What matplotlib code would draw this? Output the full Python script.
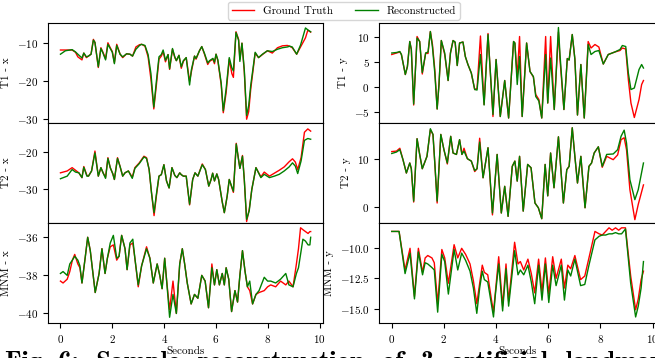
import matplotlib
matplotlib.use('Agg')
import matplotlib.pyplot as plt

plt.rcParams.update({
    'font.family': 'serif',
    'font.serif': ['cmr10', 'DejaVu Serif'],
    'mathtext.fontset': 'cm',
    'axes.formatter.use_mathtext': True,
    'font.size': 8,
    'axes.linewidth': 0.8,
})

# ---------------- data ----------------
# T1 - x
t_t1x = [0.00, 0.19, 0.45, 0.58, 0.67, 0.83, 0.90, 1.00, 1.08, 1.18, 1.27, 1.33, 1.46, 1.56,
         1.64, 1.74, 1.83, 1.92, 2.00, 2.08, 2.17, 2.30, 2.40, 2.55, 2.68, 2.78, 2.91, 3.05,
         3.13, 3.26, 3.38, 3.49, 3.60, 3.70, 3.80, 3.89, 3.96, 4.05, 4.15, 4.21, 4.32, 4.41,
         4.47, 4.57, 4.66, 4.74, 4.85, 4.98, 5.05, 5.17, 5.23, 5.36, 5.45, 5.55, 5.68, 5.75,
         5.88, 5.94, 6.00, 6.07, 6.20, 6.28, 6.39, 6.51, 6.61, 6.67, 6.77, 6.87, 6.92, 7.00,
         7.09, 7.18, 7.26, 7.34, 7.51, 7.64, 7.79, 7.98, 8.17, 8.37, 8.56, 8.75, 8.84, 8.94,
         9.11, 9.26, 9.45, 9.54, 9.65]
gt_t1x = [-11.8, -11.8, -11.8, -12.4, -13.6, -14.4, -12.6, -13.8, -13.4, -12.9, -9.0, -9.8, -16.4, -11.2,
          -12.4, -14.1, -9.9, -11.2, -12.2, -15.1, -10.3, -12.9, -13.8, -12.8, -12.9, -13.4, -11.0, -10.4,
          -10.3, -10.8, -13.6, -19.5, -27.3, -21.0, -14.2, -13.4, -12.2, -14.9, -13.0, -16.9, -11.6, -13.8,
          -14.6, -13.2, -16.6, -14.8, -13.8, -20.0, -17.5, -13.4, -14.2, -12.0, -10.9, -12.8, -15.6, -14.8,
          -14.2, -15.4, -12.9, -14.6, -21.0, -28.3, -23.0, -14.2, -18.0, -19.0, -7.0, -9.0, -14.2, -10.0,
          -17.5, -30.0, -28.0, -22.0, -12.6, -13.8, -13.0, -12.0, -12.6, -11.2, -10.7, -10.6, -10.8, -11.2,
          -12.9, -11.0, -8.6, -6.6, -7.1]
rec_t1x = [-12.9, -12.0, -11.7, -12.3, -12.9, -13.9, -12.6, -13.6, -13.4, -12.9, -9.2, -9.8, -16.2, -11.4,
           -12.6, -14.4, -10.3, -11.4, -12.4, -15.4, -10.6, -12.9, -13.6, -12.8, -12.9, -13.4, -11.6, -10.6,
           -10.3, -10.6, -13.0, -18.0, -26.8, -20.0, -13.6, -13.0, -11.8, -14.5, -13.0, -16.7, -11.4, -13.6,
           -14.6, -13.2, -16.2, -14.6, -13.8, -21.0, -17.0, -13.4, -14.0, -12.0, -10.9, -12.6, -15.2, -14.6,
           -14.0, -15.0, -12.9, -14.4, -20.5, -27.8, -22.0, -13.8, -16.5, -17.3, -7.2, -9.2, -14.8, -10.0,
           -17.0, -29.0, -26.4, -21.0, -12.4, -13.8, -12.9, -12.0, -12.2, -11.6, -11.2, -11.0, -10.8, -11.0,
           -12.9, -10.5, -6.0, -6.5, -7.0]

# T2 - x
t_t2x = [0.00, 0.26, 0.45, 0.58, 0.71, 0.83, 0.90, 1.02, 1.08, 1.20, 1.33, 1.46, 1.56, 1.65,
         1.74, 1.83, 1.92, 2.02, 2.08, 2.20, 2.30, 2.40, 2.49, 2.62, 2.77, 2.87, 3.04, 3.22,
         3.32, 3.42, 3.51, 3.61, 3.70, 3.80, 3.89, 3.99, 4.09, 4.19, 4.30, 4.41, 4.49, 4.60,
         4.66, 4.74, 4.85, 4.98, 5.10, 5.19, 5.30, 5.47, 5.59, 5.72, 5.81, 5.87, 5.94, 6.03,
         6.10, 6.24, 6.32, 6.43, 6.51, 6.60, 6.67, 6.78, 6.87, 6.92, 7.02, 7.09, 7.18, 7.28,
         7.38, 7.54, 7.73, 7.86, 8.06, 8.25, 8.44, 8.63, 8.82, 8.95, 9.06, 9.15, 9.28, 9.41,
         9.54, 9.65]
gt_t2x = [-25.7, -25.2, -24.3, -25.0, -25.7, -27.0, -24.0, -26.4, -26.6, -25.2, -19.8, -26.6, -24.3, -25.8,
          -26.9, -21.6, -24.3, -26.0, -27.5, -21.6, -24.0, -26.6, -25.7, -25.2, -26.9, -24.3, -23.0, -21.2,
          -21.6, -24.8, -31.0, -37.3, -32.0, -26.6, -26.2, -23.5, -27.9, -29.8, -24.3, -26.4, -27.0, -25.7,
          -26.2, -26.6, -26.6, -34.4, -27.5, -25.7, -26.6, -23.3, -24.8, -29.3, -27.5, -25.8, -27.9, -26.0,
          -27.5, -33.6, -36.5, -32.0, -27.5, -29.5, -31.0, -17.7, -22.2, -24.5, -21.0, -27.5, -38.9, -35.6,
          -30.2, -24.3, -26.8, -25.5, -26.6, -25.8, -25.0, -24.1, -22.7, -21.9, -22.8, -24.8, -21.6, -14.7,
          -13.8, -14.4]
rec_t2x = [-27.3, -26.6, -24.8, -25.5, -25.7, -27.0, -24.2, -26.6, -26.6, -25.2, -20.3, -26.6, -24.3, -25.8,
           -27.2, -21.8, -24.3, -26.0, -27.5, -21.8, -24.0, -26.6, -25.7, -25.2, -27.2, -24.5, -23.2, -21.4,
           -21.8, -24.8, -31.0, -36.5, -31.5, -26.6, -26.2, -23.5, -27.9, -29.8, -24.3, -26.4, -27.0, -25.7,
           -26.2, -26.6, -26.6, -34.2, -27.5, -25.7, -26.6, -23.5, -24.8, -29.3, -27.5, -25.8, -27.9, -26.0,
           -27.5, -33.6, -36.5, -32.0, -27.5, -29.3, -30.7, -17.9, -22.2, -24.5, -21.2, -27.5, -38.3, -36.0,
           -30.2, -24.3, -27.0, -26.1, -27.0, -26.6, -26.1, -25.2, -24.1, -23.0, -23.9, -25.9, -22.5, -16.9,
           -16.4, -16.6]

# MNM - x
t_mnx = [0.00, 0.10, 0.26, 0.36, 0.46, 0.55, 0.67, 0.75, 0.83, 0.96, 1.05, 1.15, 1.34, 1.49,
         1.60, 1.72, 1.81, 1.92, 2.04, 2.17, 2.26, 2.36, 2.49, 2.57, 2.68, 2.79, 2.87, 3.00,
         3.13, 3.32, 3.45, 3.58, 3.73, 3.83, 3.92, 4.02, 4.09, 4.21, 4.34, 4.47, 4.60, 4.70,
         4.79, 4.89, 5.04, 5.17, 5.30, 5.45, 5.58, 5.71, 5.84, 5.94, 6.03, 6.13, 6.24, 6.32,
         6.39, 6.49, 6.60, 6.73, 6.83, 6.92, 7.02, 7.12, 7.21, 7.30, 7.41, 7.54, 7.66, 7.86,
         7.99, 8.11, 8.30, 8.49, 8.69, 8.81, 8.97, 9.10, 9.18, 9.26, 9.35, 9.45, 9.55, 9.62,
         9.65]
gt_mnx = [-38.3, -38.4, -38.2, -37.8, -37.2, -36.9, -37.4, -37.6, -38.4, -37.0, -36.0, -36.7, -38.9, -37.9,
          -36.6, -37.9, -37.1, -36.5, -36.4, -37.2, -37.0, -35.9, -36.6, -37.7, -36.4, -36.3, -37.1, -38.6,
          -37.5, -36.5, -37.1, -38.4, -37.4, -38.0, -38.7, -37.1, -38.2, -39.8, -38.3, -40.0, -37.4, -36.6,
          -37.4, -38.4, -39.5, -39.0, -39.2, -38.0, -38.3, -39.7, -37.4, -38.5, -37.7, -38.5, -37.9, -38.5,
          -37.6, -38.2, -39.9, -38.8, -39.4, -38.0, -36.7, -37.8, -38.6, -38.8, -39.5, -39.0, -38.9, -38.8,
          -38.6, -38.5, -38.6, -38.3, -38.5, -38.3, -38.6, -37.4, -36.6, -35.5, -35.6, -35.7, -35.8, -35.7,
          -35.7]
rec_mnx = [-37.9, -37.8, -38.0, -37.4, -37.2, -37.0, -37.2, -37.5, -38.4, -37.0, -36.0, -36.7, -38.9, -37.9,
           -36.6, -37.9, -37.1, -36.3, -35.9, -37.1, -37.0, -35.9, -36.6, -37.7, -36.3, -36.1, -37.1, -38.5,
           -37.5, -36.6, -37.1, -38.4, -37.4, -38.0, -38.7, -37.1, -38.2, -40.2, -39.0, -40.0, -37.4, -36.6,
           -37.4, -38.4, -39.5, -39.0, -39.2, -38.0, -38.3, -39.7, -37.6, -38.5, -37.7, -38.5, -37.9, -38.5,
           -37.6, -38.2, -39.9, -38.8, -39.4, -38.0, -36.7, -37.8, -38.6, -38.3, -39.5, -39.0, -38.8, -38.1,
           -38.3, -38.3, -38.4, -38.2, -37.9, -38.5, -38.6, -37.9, -37.6, -36.9, -36.1, -36.2, -36.4, -36.4,
           -36.0]

# T1 - y
t_t1y = [0.00, 0.18, 0.31, 0.37, 0.52, 0.60, 0.69, 0.75, 0.84, 0.97, 1.07, 1.17, 1.30, 1.39,
         1.48, 1.56, 1.65, 1.74, 1.81, 1.90, 2.03, 2.16, 2.25, 2.35, 2.43, 2.51, 2.60, 2.73,
         2.82, 2.92, 3.05, 3.18, 3.27, 3.40, 3.54, 3.69, 3.88, 4.00, 4.16, 4.33, 4.48, 4.67,
         4.72, 4.81, 4.90, 5.00, 5.17, 5.30, 5.43, 5.52, 5.64, 5.75, 5.90, 5.98, 6.09, 6.23,
         6.39, 6.45, 6.60, 6.73, 6.80, 6.92, 7.02, 7.12, 7.25, 7.38, 7.53, 7.64, 7.79, 7.94,
         8.11, 8.30, 8.55, 8.75, 8.84, 8.97, 9.07, 9.17, 9.30, 9.48, 9.58, 9.65]
gt_t1y = [6.5, 6.8, 7.0, 6.5, 2.5, 4.1, 9.1, 7.5, -3.6, 10.1, 9.1, 2.6, 6.8, 6.7,
          11.1, 8.5, 3.5, -4.4, 0.5, 9.3, 6.5, 1.3, 6.8, 9.3, 8.9, 4.3, 8.8, 9.0,
          6.1, 4.5, 2.8, -0.5, -0.3, 10.2, -3.5, 10.7, -5.9, 5.5, -5.9, 1.3, -6.2, 9.1,
          8.8, 2.0, 10.1, -5.9, 8.8, 3.1, 2.0, -1.5, -2.5, -6.2, 10.1, -3.2, 10.1, -4.5,
          11.0, 5.5, -4.5, 5.7, 5.4, 10.5, 5.6, -5.6, 4.5, -6.2, 9.1, 7.8, 8.5, 8.0,
          4.6, 6.5, 7.0, 7.3, 7.8, 7.6, 1.5, -3.2, -6.1, -2.5, 0.5, 1.3]
rec_t1y = [6.8, 6.9, 7.1, 6.5, 2.5, 4.1, 9.1, 7.5, -3.4, 9.8, 9.1, 2.9, 6.8, 7.0,
           11.1, 8.0, 2.8, -4.4, 0.5, 9.3, 6.8, 1.3, 6.8, 9.3, 9.0, 4.3, 8.8, 9.0,
           6.1, 4.5, 2.8, -0.5, -0.6, 6.5, -3.6, 10.5, -5.5, 5.5, -5.9, 1.3, -6.2, 9.1,
           8.8, 0.5, 6.1, -5.9, 8.8, 3.1, 2.1, -1.9, -2.8, -6.2, 6.5, -3.2, 5.8, -4.5,
           11.9, 6.5, -4.5, 5.7, 5.4, 10.5, 5.6, -5.6, 4.5, -6.2, 8.5, 6.5, 7.1, 7.3,
           4.6, 6.5, 7.0, 7.5, 8.3, 8.1, 2.8, -0.5, -0.2, 3.5, 4.5, 3.8]

# T2 - y
t_t2y = [0.00, 0.18, 0.31, 0.43, 0.56, 0.69, 0.75, 0.84, 0.97, 1.07, 1.17, 1.35, 1.48, 1.58,
         1.65, 1.74, 1.88, 2.00, 2.13, 2.26, 2.35, 2.48, 2.60, 2.69, 2.77, 2.90, 3.05, 3.18,
         3.27, 3.37, 3.50, 3.69, 3.86, 4.04, 4.20, 4.33, 4.46, 4.62, 4.72, 4.81, 4.90, 5.04,
         5.21, 5.34, 5.49, 5.62, 5.75, 5.88, 5.98, 6.09, 6.22, 6.39, 6.58, 6.71, 6.80, 6.92,
         7.02, 7.12, 7.25, 7.41, 7.56, 7.66, 7.76, 7.92, 8.07, 8.24, 8.49, 8.66, 8.79, 8.91,
         9.00, 9.13, 9.32, 9.45, 9.65]
gt_t2y = [11.6, 11.7, 12.3, 9.9, 7.1, 9.2, 8.0, 1.0, 14.3, 11.0, 8.0, 10.6, 16.2, 15.2,
          9.2, 0.8, 15.2, 12.0, 9.0, 14.8, 11.3, 11.0, 14.1, 11.0, 12.3, 10.1, 9.6, 7.4,
          8.0, 14.4, 6.1, 12.4, -1.7, 11.0, -1.3, 4.3, -2.0, 8.5, 9.6, 5.4, 10.6, -0.9,
          8.9, 8.2, 0.8, -0.2, -2.5, 8.9, 2.3, 11.3, 4.0, 14.7, 0.8, 7.8, 8.5, 16.6,
          10.6, 5.0, 10.6, -0.2, 8.5, 9.2, 11.3, 12.6, 8.3, 10.6, 9.9, 10.9, 14.1, 14.5,
          12.0, 3.6, -2.7, 0.5, 4.6]
rec_t2y = [11.2, 11.5, 12.0, 9.9, 7.1, 9.2, 8.0, 1.2, 14.3, 11.0, 8.0, 10.6, 16.4, 15.2,
           9.2, 1.2, 15.2, 12.0, 9.2, 14.8, 11.3, 11.0, 14.1, 11.0, 11.7, 10.1, 9.6, 7.6,
           8.0, 13.6, 6.1, 12.4, -1.3, 11.0, -1.3, 4.3, -2.0, 8.5, 9.6, 5.4, 10.6, -0.9,
           8.9, 8.2, 0.8, -0.2, -2.5, 8.9, 2.3, 11.3, 4.0, 14.7, 0.8, 7.8, 8.5, 16.6,
           10.6, 5.0, 10.6, -0.2, 8.5, 9.2, 11.3, 12.6, 8.5, 11.0, 11.1, 12.0, 14.8, 16.1,
           13.4, 5.7, 1.5, 3.6, 9.2]

# MNM - y
t_mny = [0.00, 0.28, 0.51, 0.70, 0.87, 1.02, 1.18, 1.28, 1.38, 1.54, 1.63, 1.76, 1.92, 2.03,
         2.17, 2.39, 2.53, 2.68, 2.83, 3.00, 3.13, 3.26, 3.37, 3.47, 3.55, 3.68, 3.81, 3.90,
         3.97, 4.10, 4.25, 4.38, 4.48, 4.58, 4.71, 4.84, 4.93, 5.06, 5.22, 5.35, 5.48, 5.63,
         5.76, 5.89, 6.02, 6.17, 6.30, 6.50, 6.62, 6.75, 6.86, 7.02, 7.24, 7.40, 7.56, 7.79,
         7.95, 8.07, 8.20, 8.33, 8.45, 8.58, 8.70, 8.81, 8.96, 9.16, 9.35, 9.45, 9.56, 9.65]
gt_mny = [-8.6, -8.6, -11.8, -10.0, -14.0, -10.0, -12.0, -10.8, -10.6, -10.8, -11.2, -14.6, -10.1, -10.8,
          -12.9, -9.7, -10.8, -10.0, -10.5, -11.3, -12.7, -14.6, -12.9, -11.4, -12.0, -12.2, -14.1, -15.3,
          -13.7, -10.7, -14.8, -11.3, -14.4, -12.3, -9.5, -11.3, -11.1, -11.8, -10.9, -12.1, -13.7, -10.9,
          -13.6, -10.8, -13.8, -10.7, -12.5, -10.9, -13.3, -11.4, -11.7, -10.6, -12.6, -12.3, -10.8, -8.6,
          -8.8, -8.9, -8.6, -8.3, -8.5, -8.3, -8.5, -8.3, -8.3, -12.3, -15.1, -14.2, -12.6, -11.9]
rec_mny = [-8.6, -8.6, -12.1, -10.4, -14.2, -10.3, -12.2, -11.2, -11.3, -11.6, -11.8, -15.3, -10.5, -11.1,
           -13.8, -10.1, -11.8, -10.4, -11.0, -11.9, -13.3, -15.4, -13.3, -11.9, -12.6, -12.8, -14.5, -15.7,
           -13.9, -11.3, -15.2, -11.7, -14.8, -12.8, -10.2, -12.2, -11.8, -12.2, -11.4, -12.8, -14.6, -11.4,
           -14.3, -11.3, -14.5, -11.4, -13.1, -11.4, -14.3, -11.8, -12.3, -10.9, -13.1, -13.0, -11.4, -9.3,
           -9.0, -8.9, -8.9, -8.8, -8.8, -8.7, -8.8, -8.8, -8.4, -12.9, -15.7, -14.8, -13.3, -11.1]

panels = [
    ('T1 - x', t_t1x, gt_t1x, rec_t1x, (-31.0, -4.7)),
    ('T2 - x', t_t2x, gt_t2x, rec_t2x, (-39.3, -12.2)),
    ('MNM - x', t_mnx, gt_mnx, rec_mnx, (-40.5, -35.25)),
    ('T1 - y', t_t1y, gt_t1y, rec_t1y, (-7.2, 12.8)),
    ('T2 - y', t_t2y, gt_t2y, rec_t2y, (-3.4, 17.6)),
    ('MNM - y', t_mny, gt_mny, rec_mny, (-16.2, -7.9)),
]

# ---------------- figure ----------------
fig = plt.figure(figsize=(6.55, 3.58), dpi=100)

H = 0.2793
col_x = [0.0733, 0.579]
col_w = [0.42, 0.4225]
row_y = [0.0978 + 2 * H, 0.0978 + H, 0.0978]

for k, (label, t, gt, rec, ylim) in enumerate(panels):
    col = k // 3
    row = k % 3
    ax = fig.add_axes([col_x[col], row_y[row], col_w[col], H])
    ax.plot(t, gt, color='red', lw=1.0, label='Ground Truth')
    ax.plot(t, rec, color='green', lw=1.0, label='Reconstructed')
    ax.set_xlim(-0.48, 10.13)
    ax.set_ylim(*ylim)
    ax.set_ylabel(label)
    if row < 2:
        ax.tick_params(axis='x', bottom=False, labelbottom=False)
    else:
        ax.set_xticks([0, 2, 4, 6, 8, 10])
        ax.set_xlabel('Seconds', labelpad=1)
    if k == 0:
        handles, labels = ax.get_legend_handles_labels()

fig.legend(handles, labels, loc='upper center', bbox_to_anchor=(0.525, 1.01),
           ncol=2, fontsize=8, frameon=True, borderpad=0.35, columnspacing=2.0)

# caption that is cut off at the bottom edge of the picture (justified, wide word gaps)
fig.text(0.008, -0.045, 'Fig. 6:  Sample  reconstruction  of  3  artificial  landmarks',
         fontsize=19, family='cmb10', ha='left', va='bottom')

fig.savefig('out.png', dpi=100)
